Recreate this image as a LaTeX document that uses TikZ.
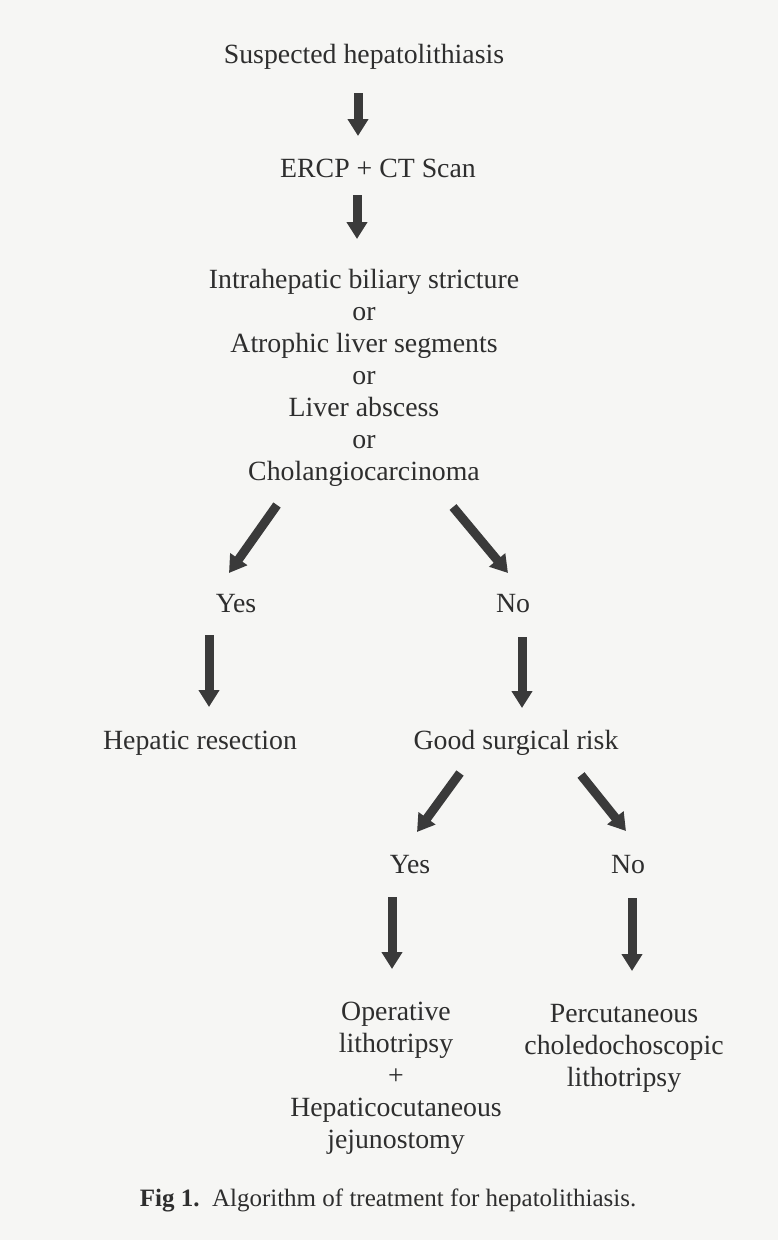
\documentclass[tikz,border=0pt]{standalone}
\usepackage{fontspec}
\setmainfont{Liberation Serif}
\usetikzlibrary{arrows.meta}
\definecolor{ink}{HTML}{2E2E2E}
\definecolor{arrowc}{HTML}{3A3A3A}
\definecolor{paper}{HTML}{F6F6F4}
\begin{document}
\begin{tikzpicture}[x=1pt,y=-1pt,
  txt/.style={inner sep=0pt, text=ink, font=\fontsize{27.8}{31.9}\selectfont, align=center},
  captxt/.style={inner sep=0pt, text=ink, font=\fontsize{25}{30}\selectfont},
  arr/.style={draw=arrowc, line width=9pt, -{Triangle[width=20pt,length=17pt]}}]
\fill[paper] (0,0) rectangle (778,1240);
\useasboundingbox (0,0) rectangle (778,1240);

% multi-line nodes: anchor=base is the baseline of the last line
\node[txt, anchor=base] (susp) at (364,63) {Suspected hepatolithiasis};
\node[txt, anchor=base] (ercp) at (378,177) {ERCP + CT Scan};
\node[txt, anchor=base] (cond) at (364,480) {Intrahepatic biliary stricture\\or\\Atrophic liver segments\\or\\Liver abscess\\or\\Cholangiocarcinoma};
\node[txt, anchor=base] (yes1) at (236,612) {Yes};
\node[txt, anchor=base] (no1) at (513,612) {No};
\node[txt, anchor=base] (hep) at (200,749) {Hepatic resection};
\node[txt, anchor=base] (good) at (516,749) {Good surgical risk};
\node[txt, anchor=base] (yes2) at (410,873) {Yes};
\node[txt, anchor=base] (no2) at (628,873) {No};
\node[txt, anchor=base] (oper) at (396,1148) {Operative\\lithotripsy\\+\\Hepaticocutaneous\\jejunostomy};
\node[txt, anchor=base] (perc) at (624,1086) {Percutaneous\\choledochoscopic\\lithotripsy};
\node[captxt, anchor=base] (caption) at (388,1206) {\textbf{Fig 1.}\ \ Algorithm of treatment for hepatolithiasis.};

% arrow end points
\coordinate (a1s) at (358,93);  \coordinate (a1e) at (358,136);
\coordinate (a2s) at (357,195); \coordinate (a2e) at (357,239);
\coordinate (a3s) at (277,505); \coordinate (a3e) at (229,573);
\coordinate (a4s) at (453,507); \coordinate (a4e) at (508,573);
\coordinate (a5s) at (209,635); \coordinate (a5e) at (209,707);
\coordinate (a6s) at (522,637); \coordinate (a6e) at (522,708);
\coordinate (a7s) at (460,773); \coordinate (a7e) at (417,832);
\coordinate (a8s) at (581,775); \coordinate (a8e) at (626,831);
\coordinate (a9s) at (392,897); \coordinate (a9e) at (392,969);
\coordinate (a10s) at (632,898); \coordinate (a10e) at (632,971);

\draw[arr] (a1s) -- (a1e);
\draw[arr] (a2s) -- (a2e);
\draw[arr] (a3s) -- (a3e);
\draw[arr] (a4s) -- (a4e);
\draw[arr] (a5s) -- (a5e);
\draw[arr] (a6s) -- (a6e);
\draw[arr] (a7s) -- (a7e);
\draw[arr] (a8s) -- (a8e);
\draw[arr] (a9s) -- (a9e);
\draw[arr] (a10s) -- (a10e);
\end{tikzpicture}
\end{document}
